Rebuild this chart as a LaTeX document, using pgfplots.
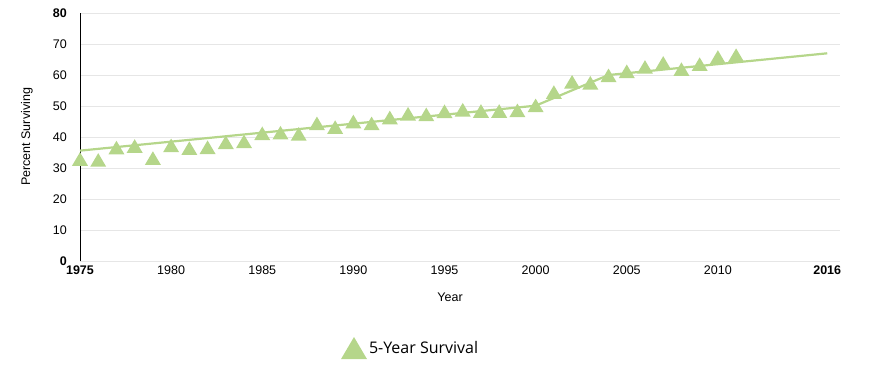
\documentclass[border=0pt]{standalone}
\usepackage{fontspec}
\setmainfont{Liberation Sans}
\newfontfamily\legfont{Open Sans}
\usepackage{pgfplots}
\pgfplotsset{compat=1.18}
\definecolor{tri}{RGB}{181,214,138}
\definecolor{gridc}{RGB}{230,230,230}
\pgfdeclareplotmark{htri}{%
  \pgfpathmoveto{\pgfpoint{0pt}{0.85\pgfplotmarksize}}%
  \pgfpathlineto{\pgfpoint{\pgfplotmarksize}{-0.85\pgfplotmarksize}}%
  \pgfpathlineto{\pgfpoint{-\pgfplotmarksize}{-0.85\pgfplotmarksize}}%
  \pgfpathclose\pgfusepathqfill}
\begin{document}
\begin{tikzpicture}
\begin{axis}[
  at={(0,0)}, anchor=south west,
  scale only axis, width=760pt, height=248pt,
  xmin=1975, xmax=2016.7, ymin=0, ymax=80,
  clip=false,
  axis lines=left, axis line style={-},
  x axis line style={draw=gridc},
  y axis line style={draw=black},
  ymajorgrids, grid style={gridc, line width=0.8pt},
  major tick length=0pt,
  xtick={1975,1980,1985,1990,1995,2000,2005,2010,2016},
  xticklabels={\textbf{1975},1980,1985,1990,1995,2000,2005,2010,\textbf{2016}},
  ytick={0,10,20,30,40,50,60,70,80},
  yticklabels={\textbf{0},10,20,30,40,50,60,70,\textbf{80}},
  tick label style={font=\fontsize{12.5}{14}\selectfont, inner sep=0pt},
  xticklabel style={anchor=north, yshift=-5pt},
  yticklabel style={anchor=east, xshift=-13pt},
  xlabel={Year}, ylabel={Percent Surviving},
  label style={font=\fontsize{12.5}{14}\selectfont},
  xlabel style={at={(axis description cs:0.487,0)}, anchor=center, yshift=-36pt},
  ylabel style={at={(axis description cs:0,0.5)}, anchor=center, rotate=0, yshift=53pt},
  legend style={draw=none, fill=none, at={(0.435,-0.351)}, anchor=center,
    font=\legfont\fontsize{16}{19}\selectfont},
  legend image code/.code={\pgfsetfillcolor{tri}\pgftransformshift{\pgfpoint{0.18cm}{0pt}}\pgfplotsset{mark size=13pt}\pgfuseplotmark{htri}},
]
\addplot[tri, line width=2.2pt, forget plot] coordinates {
(1975,35.6) (2000,50.1) (2004,60.0) (2016,67.0)};
\addplot[only marks, mark=htri, mark size=8pt, mark options={fill=tri, draw=none}] coordinates {
(1975,32.9) (1976,32.6) (1977,36.6) (1978,37.1) (1979,33.2) (1980,37.3)
(1981,36.4) (1982,36.7) (1983,38.3) (1984,38.6) (1985,41.2) (1986,41.4)
(1987,41.0) (1988,44.4) (1989,43.2) (1990,45.0) (1991,44.4) (1992,46.3)
(1993,47.5) (1994,47.3) (1995,48.3) (1996,48.8) (1997,48.4) (1998,48.4)
(1999,48.6) (2000,50.2) (2001,54.5) (2002,57.8) (2003,57.5) (2004,59.9)
(2005,61.2) (2006,62.6) (2007,63.9) (2008,61.9) (2009,63.5) (2010,65.8)
(2011,66.4)};
\addlegendentry{5-Year Survival}
\end{axis}
\useasboundingbox (-80pt,-115pt) rectangle (801pt,261pt);
\end{tikzpicture}
\end{document}
